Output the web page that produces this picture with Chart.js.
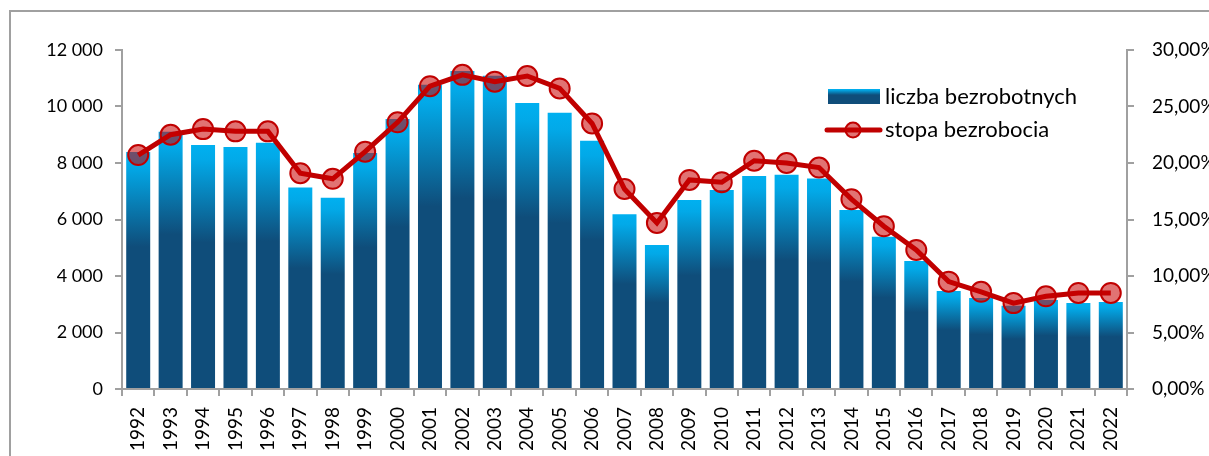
<!DOCTYPE html>
<html><head><meta charset="utf-8">
<script src="https://cdn.jsdelivr.net/npm/chart.js@4/dist/chart.umd.min.js"></script>
<style>
html,body{margin:0;padding:0;background:#fff;overflow:hidden;width:1209px;height:456px;}
#frame{position:absolute;left:9px;top:10px;width:1400px;height:600px;border-left:2px solid #a0a0a0;border-top:2px solid #a0a0a0;}
#wrap{position:absolute;left:0;top:0;width:1209px;height:456px;}
</style></head><body>
<div id="frame"></div>
<div id="wrap"><canvas id="c" width="1209" height="456"></canvas></div>
<script>
const years = ['1992','1993','1994','1995','1996','1997','1998','1999','2000','2001','2002','2003','2004','2005','2006','2007','2008','2009','2010','2011','2012','2013','2014','2015','2016','2017','2018','2019','2020','2021','2022'];
const unemployed = [8390, 9110, 8640, 8570, 8720, 7130, 6770, 8350, 9560, 10770, 11260, 11090, 10120, 9780, 8790, 6190, 5100, 6690, 7040, 7540, 7580, 7450, 6340, 5390, 4530, 3470, 3220, 2950, 3150, 3040, 3080];
const rate = [20.7, 22.5, 23.0, 22.8, 22.8, 19.1, 18.6, 21.0, 23.6, 26.8, 27.8, 27.2, 27.7, 26.6, 23.5, 17.7, 14.7, 18.5, 18.3, 20.2, 20.0, 19.6, 16.8, 14.4, 12.3, 9.5, 8.6, 7.6, 8.2, 8.5, 8.5];
const leftTicks = [0, 2000, 4000, 6000, 8000, 10000, 12000];
const rightTicks = [0, 5, 10, 15, 20, 25, 30];
const seriesNames = ['liczba bezrobotnych', 'stopa bezrobocia'];

const CYAN = '#00B0F0', DARK = '#0F4D7A', RED = '#C00000', MARK = 'rgba(200,0,0,0.55)', AXIS = '#a0a0a0';
const FONT = 'Lato';

function barGrad(c, top, base){
  const g = c.createLinearGradient(0, top, 0, base);
  g.addColorStop(0, CYAN);
  g.addColorStop(0.06, '#02A9E8');
  g.addColorStop(0.40, DARK);
  g.addColorStop(1, DARK);
  return g;
}

const legendPlugin = {
  id: 'insideLegend',
  afterDraw(chart){
    const c = chart.ctx, a = chart.chartArea;
    const x0 = a.left + 706, y0 = a.top + 39;
    c.save();
    c.fillStyle = barGrad(c, y0, y0 + 15);
    c.fillRect(x0, y0, 52, 15);
    const ly = y0 + 41;
    c.strokeStyle = RED; c.lineWidth = 5; c.lineCap = 'round';
    c.beginPath(); c.moveTo(x0 - 1, ly); c.lineTo(x0 + 52, ly); c.stroke();
    c.beginPath(); c.arc(x0 + 25, ly, 7.5, 0, Math.PI*2);
    c.fillStyle = MARK; c.fill(); c.lineWidth = 2; c.strokeStyle = RED; c.stroke();
    c.fillStyle = '#000'; c.font = '22px ' + FONT; c.textBaseline = 'middle'; c.textAlign = 'left';
    c.fillText(chart.data.datasets[0].label, x0 + 57, y0 + 8);
    c.fillText(chart.data.datasets[1].label, x0 + 57, ly);
    c.restore();
  }
};

new Chart(document.getElementById('c'), {
  data: {
    labels: years,
    datasets: [
      {
        type: 'bar', label: seriesNames[0], data: unemployed, yAxisID: 'y', order: 2,
        categoryPercentage: 1, barPercentage: 0.74,
        backgroundColor(ctx){
          const ch = ctx.chart, ys = ch.scales.y;
          if (!ys || ctx.type !== 'data' || !ch.chartArea) return DARK;
          return barGrad(ch.ctx, ys.getPixelForValue(ctx.raw), ys.getPixelForValue(0));
        }
      },
      {
        type: 'line', label: seriesNames[1], data: rate, yAxisID: 'y2', order: 1,
        borderColor: RED, borderWidth: 5, tension: 0,
        pointRadius: 10, pointBorderWidth: 2, pointBackgroundColor: MARK, pointBorderColor: RED
      }
    ]
  },
  options: {
    responsive: false, animation: false,
    layout: { padding: { top: 50, left: 0, right: 0, bottom: 0 } },
    plugins: { legend: { display: false }, tooltip: { enabled: false } },
    scales: {
      x: {
        grid: { display: true, drawOnChartArea: false, drawTicks: true, tickLength: 7, color: AXIS, lineWidth: 2, offset: true },
        border: { display: true, color: AXIS, width: 2 },
        ticks: { autoSkip: false, maxRotation: 90, minRotation: 90, color: '#000', font: { family: FONT, size: 19 }, padding: 11 },
        afterFit(s){ s.height = 67; }
      },
      y: {
        position: 'left', min: 0, max: 12000,
        afterBuildTicks(s){ s.ticks = leftTicks.map(v => ({ value: v })); },
        grid: { drawOnChartArea: false, drawTicks: true, tickLength: 7, color: AXIS, lineWidth: 2 },
        border: { display: true, color: AXIS, width: 2 },
        ticks: { color: '#000', font: { family: FONT, size: 18 }, padding: 12,
          callback: v => String(v).replace(/\B(?=(\d{3})+(?!\d))/g, ' ') },
        afterFit(s){ s.width = 122; }
      },
      y2: {
        position: 'right', min: 0, max: 30,
        afterBuildTicks(s){ s.ticks = rightTicks.map(v => ({ value: v })); },
        grid: { drawOnChartArea: false, drawTicks: true, tickLength: 7, color: AXIS, lineWidth: 2 },
        border: { display: true, color: AXIS, width: 2 },
        ticks: { color: '#000', font: { family: FONT, size: 19 }, padding: 18,
          callback: v => v.toFixed(2).replace('.', ',') + '%' },
        afterFit(s){ s.width = 82; }
      }
    }
  },
  plugins: [legendPlugin]
});
</script>
</body></html>
